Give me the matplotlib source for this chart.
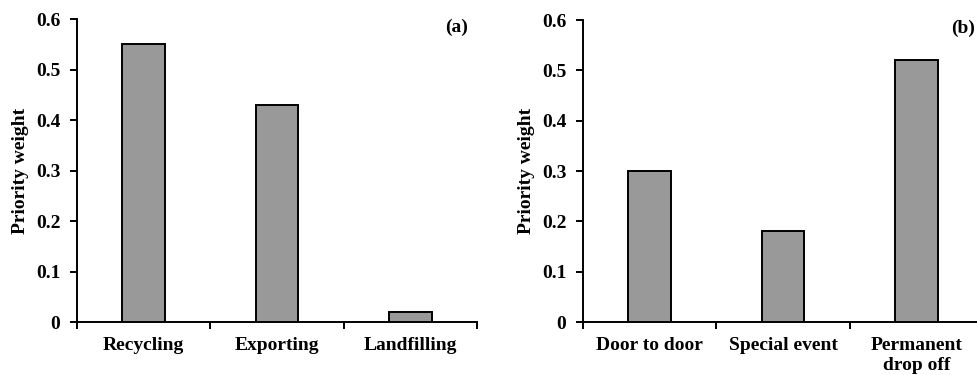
import matplotlib.pyplot as plt
import numpy as np

plt.rcParams['font.family'] = ['Liberation Serif', 'DejaVu Serif']
plt.rcParams['font.weight'] = 'bold'

# panel (a)
cats_a = ['Recycling', 'Exporting', 'Landfilling']
vals_a = [0.55, 0.43, 0.02]
# panel (b)
cats_b = ['Door to door', 'Special event', 'Permanent\ndrop off']
vals_b = [0.30, 0.18, 0.52]

fig = plt.figure(figsize=(9.78, 3.75), dpi=100)
ax_a = fig.add_axes([0.0787, 0.1413, 0.409, 0.808])
ax_b = fig.add_axes([0.5961, 0.1413, 0.409, 0.805])

FS = 14


def draw(ax, cats, vals, tag, tag_x):
    x = np.arange(len(cats))
    ax.bar(x, vals, width=0.32, color='#999999', edgecolor='black', linewidth=1.4, zorder=3)
    ax.set_xlim(-0.5, len(cats) - 0.5)
    ax.set_ylim(0, 0.6)
    ax.set_yticks(np.arange(0, 0.61, 0.1))
    ax.set_yticklabels(['0', '0.1', '0.2', '0.3', '0.4', '0.5', '0.6'])
    ax.set_xticks(x)
    ax.set_xticklabels(cats, linespacing=1.2)
    ax.set_xticks(np.arange(len(cats) + 1) - 0.5, minor=True)
    ax.tick_params(axis='x', which='major', length=0, pad=11, labelsize=FS)
    ax.tick_params(axis='x', which='minor', length=5, width=1.4, direction='out')
    ax.tick_params(axis='y', length=5, width=1.4, direction='out', pad=7, labelsize=FS)
    for s in ['top', 'right']:
        ax.spines[s].set_visible(False)
    for s in ['left', 'bottom']:
        ax.spines[s].set_linewidth(1.4)
    ax.set_ylabel('Priority weight', fontsize=FS, fontweight='bold', labelpad=5)
    ax.text(tag_x, 1.0, tag, transform=ax.transAxes, ha='center', va='top',
            fontsize=FS, fontweight='bold')


draw(ax_a, cats_a, vals_a, '(a)', 0.95)
draw(ax_b, cats_b, vals_b, '(b)', 0.95)

fig.savefig('out.png', dpi=100)
